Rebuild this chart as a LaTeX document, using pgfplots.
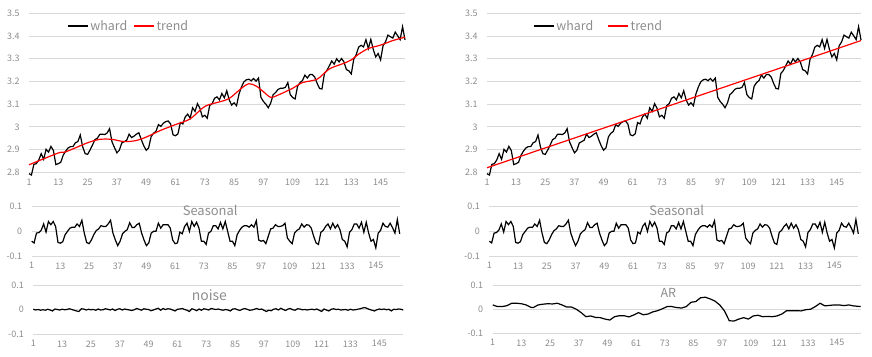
\documentclass[border=0pt]{standalone}
\usepackage{pgfplots}
\pgfplotsset{compat=1.18}
\usepackage{pgfplotstable}
\usepackage{fontspec}
\setmainfont{Noto Sans CJK JP}
\definecolor{gridgray}{HTML}{D9D9D9}
\definecolor{txtgray}{HTML}{8C8C8C}
\definecolor{trendred}{HTML}{FF0000}

\pgfplotstableread{
i whard seas noise
1 2.794 -0.040 0.001
2 2.788 -0.047 -0.002
3 2.835 -0.007 0.000
4 2.838 -0.005 -0.003
5 2.854 0.005 -0.001
6 2.882 0.030 -0.003
7 2.857 -0.003 0.001
8 2.901 0.040 -0.002
9 2.889 0.027 -0.006
10 2.914 0.040 0.002
11 2.896 0.020 0.000
12 2.834 -0.045 -0.002
13 2.838 -0.048 0.001
14 2.844 -0.042 -0.001
15 2.875 -0.013 0.000
16 2.893 0.000 0.003
17 2.907 0.013 0.000
18 2.913 0.017 -0.003
19 2.913 0.016 -0.006
20 2.930 0.030 -0.008
21 2.935 0.020 0.003
22 2.964 0.045 0.002
23 2.912 -0.007 -0.002
24 2.882 -0.045 0.001
25 2.879 -0.050 -0.001
26 2.898 -0.035 0.000
27 2.920 -0.013 -0.003
28 2.944 0.003 0.002
29 2.950 0.010 -0.002
30 2.967 0.023 -0.001
31 2.968 0.020 0.003
32 2.966 0.020 0.001
33 2.973 0.030 -0.002
34 2.992 0.045 0.002
35 2.934 -0.007 -0.004
36 2.909 -0.035 0.001
37 2.886 -0.058 0.003
38 2.897 -0.040 -0.002
39 2.929 -0.010 0.002
40 2.935 0.000 0.000
41 2.941 0.007 -0.002
42 2.968 0.035 -0.004
43 2.953 0.016 -0.001
44 2.959 0.016 0.004
45 2.968 0.027 0.001
46 2.974 0.033 -0.003
47 2.944 -0.007 0.003
48 2.917 -0.035 0.001
49 2.897 -0.058 0.000
50 2.908 -0.047 -0.005
51 2.956 -0.007 -0.002
52 2.972 0.000 0.002
53 2.980 0.000 0.005
54 3.010 0.033 -0.003
55 3.002 0.013 0.004
56 3.016 0.027 0.000
57 3.023 0.027 0.003
58 3.026 0.027 0.002
59 3.013 0.013 -0.002
60 2.965 -0.035 -0.006
61 2.961 -0.050 0.001
62 2.969 -0.047 0.002
63 3.019 -0.003 0.004
64 3.013 -0.010 0.000
65 3.044 0.020 -0.003
66 3.056 0.033 -0.008
67 3.038 0.000 0.003
68 3.084 0.040 0.000
69 3.068 0.020 -0.005
70 3.102 0.037 0.002
71 3.082 0.013 -0.003
72 3.044 -0.040 0.003
73 3.051 -0.040 0.001
74 3.038 -0.053 -0.002
75 3.094 -0.007 0.004
76 3.102 0.000 0.002
77 3.126 0.023 0.000
78 3.132 0.023 0.002
79 3.119 0.010 -0.001
80 3.147 0.036 -0.003
81 3.128 0.010 0.000
82 3.159 0.040 -0.002
83 3.119 0.000 -0.006
84 3.096 -0.040 0.002
85 3.106 -0.040 0.003
86 3.093 -0.058 -0.001
87 3.144 -0.013 -0.004
88 3.175 0.004 0.001
89 3.198 0.017 0.004
90 3.207 0.023 0.001
91 3.210 0.023 -0.003
92 3.203 0.017 -0.002
93 3.213 0.027 0.001
94 3.201 0.017 0.004
95 3.215 0.043 0.000
96 3.130 -0.035 0.002
97 3.112 -0.040 -0.003
98 3.100 -0.037 -0.008
99 3.084 -0.050 -0.003
100 3.105 -0.020 -0.005
101 3.142 0.010 0.001
102 3.151 0.013 0.003
103 3.165 0.027 -0.002
104 3.170 0.020 0.005
105 3.170 0.020 0.000
106 3.174 0.023 -0.004
107 3.195 0.033 0.002
108 3.142 -0.027 0.004
109 3.129 -0.040 -0.001
110 3.123 -0.050 -0.003
111 3.179 -0.007 0.003
112 3.195 0.004 0.002
113 3.204 0.010 -0.001
114 3.228 0.030 0.000
115 3.215 0.017 -0.002
116 3.230 0.027 0.000
117 3.231 0.025 0.001
118 3.220 0.013 -0.001
119 3.192 -0.020 0.002
120 3.169 -0.047 -0.003
121 3.167 -0.053 -0.008
122 3.235 -0.004 0.002
123 3.248 0.004 -0.002
124 3.269 0.020 -0.006
125 3.290 0.030 0.001
126 3.276 0.010 0.003
127 3.300 0.033 0.000
128 3.286 0.013 0.001
129 3.301 0.027 -0.002
130 3.286 0.007 -0.001
131 3.252 -0.033 0.000
132 3.247 -0.040 -0.003
133 3.233 -0.063 0.001
134 3.297 -0.004 -0.002
135 3.318 0.007 -0.001
136 3.351 0.030 0.001
137 3.359 0.030 0.003
138 3.352 0.013 0.006
139 3.384 0.037 0.008
140 3.345 -0.004 0.004
141 3.385 0.037 0.000
142 3.341 -0.007 -0.003
143 3.308 -0.040 -0.006
144 3.323 -0.033 -0.001
145 3.295 -0.067 0.002
146 3.357 -0.007 0.000
147 3.374 0.004 0.002
148 3.404 0.033 -0.001
149 3.397 0.020 0.001
150 3.391 0.017 -0.006
151 3.417 0.033 0.001
152 3.401 0.015 0.000
153 3.384 -0.007 0.002
154 3.441 0.048 0.001
155 3.383 -0.010 -0.002
}\maindata

\pgfplotstableread{
i ar
1 0.017
3 0.010
5 0.010
7 0.014
9 0.024
11 0.024
13 0.022
15 0.017
17 0.007
18 0.006
20 0.017
22 0.020
24 0.022
26 0.021
28 0.024
30 0.017
32 0.008
34 0.008
36 -0.001
38 -0.015
40 -0.032
42 -0.029
44 -0.035
46 -0.036
48 -0.042
50 -0.046
52 -0.032
54 -0.028
56 -0.028
58 -0.033
60 -0.025
62 -0.015
64 -0.024
66 -0.021
68 -0.012
70 -0.007
72 0.001
74 0.010
76 0.010
78 0.006
80 0.004
82 0.010
84 0.028
86 0.031
88 0.047
90 0.049
92 0.042
94 0.033
96 0.017
98 -0.008
100 -0.049
102 -0.050
104 -0.042
106 -0.036
108 -0.042
110 -0.029
112 -0.026
114 -0.032
116 -0.031
118 -0.032
120 -0.029
122 -0.021
124 -0.007
126 -0.007
128 -0.007
130 -0.008
132 -0.003
134 -0.001
136 0.010
138 0.024
140 0.013
142 0.015
144 0.017
146 0.017
148 0.014
150 0.017
152 0.013
155 0.010
}\ardata

\tikzset{
  ttl/.style={anchor=base, text=txtgray, font=\fontsize{13}{15}\selectfont},
  ser/.style={black, line width=1.2bp},
}
\pgfplotsset{
  excel/.style={scale only axis, anchor=south west, xmin=1, xmax=155,
    axis line style={draw=none}, major tick style={draw=none},
    ymajorgrids, grid style={gridgray, line width=0.8bp},
    xtick={1,13,...,145},
    tick label style={font=\fontsize{9}{10}\selectfont, text=txtgray},
    xticklabel style={yshift=-3bp}, yticklabel style={xshift=-6bp},
    /pgf/number format/assume math mode=true, clip=false},
  top/.style={excel, ymin=2.8, ymax=3.5,
    ytick={2.8,2.9,3,3.1,3.2,3.3,3.4,3.5},
    yticklabels={2.8,2.9,3,3.1,3.2,3.3,3.4,3.5},
    legend image code/.code={\draw[##1] (0bp,0bp) -- (20bp,0bp);},
    legend cell align=left},
  mid/.style={excel, ymin=-0.1, ymax=0.1, ytick={-0.1,0,0.1},
    yticklabels={-0.1,0,0.1}},
}

\begin{document}
\begin{tikzpicture}
\path[use as bounding box] (0bp,0bp) rectangle (872bp,357bp);

% left top
\begin{axis}[top, at={(29bp,184.7bp)}, width=376bp, height=159bp,
  legend style={draw=none, fill=none, at={(0.101,0.92)}, anchor=west,
    legend columns=2, inner sep=0pt,
    font=\fontsize{12.5}{14}\selectfont, text=txtgray,
    /tikz/every even column/.append style={column sep=4bp}}]
\addplot[ser] table[x=i, y=whard]{\maindata};
\addlegendentry{whard}
\addplot[trendred, line width=1.2bp, smooth] coordinates {
(1,2.833) (13,2.885) (16,2.890) (25,2.930) (30,2.945) (35,2.945) (40,2.935)
(45,2.940) (49,2.955) (55,2.985) (61,3.010) (67,3.035) (73,3.090) (79,3.110)
(83,3.125) (88,3.170) (91,3.190) (94,3.180) (97,3.155) (100,3.130) (103,3.140)
(109,3.170) (113,3.195) (119,3.210) (124,3.255) (130,3.280) (133,3.295)
(136,3.320) (140,3.345) (145,3.360) (150,3.380) (155,3.395)};
\addlegendentry{trend}
\end{axis}

% left middle
\begin{axis}[mid, at={(31.7bp,101bp)}, width=368bp, height=49.3bp]
\addplot[ser] table[x=i, y=seas]{\maindata};
\node[ttl] at (rel axis cs:0.485,0.83) {Seasonal};
\end{axis}

% left bottom
\begin{axis}[mid, at={(33.3bp,23bp)}, width=370bp, height=49bp]
\addplot[ser] table[x=i, y=noise]{\maindata};
\node[ttl, font=\fontsize{14}{16}\selectfont] at (rel axis cs:0.476,0.69) {noise};
\end{axis}

% right top
\begin{axis}[top, at={(487bp,184.7bp)}, width=374bp, height=159bp,
  legend style={draw=none, fill=none, at={(0.123,0.92)}, anchor=west,
    legend columns=2, inner sep=0pt,
    font=\fontsize{12.5}{14}\selectfont, text=txtgray,
    /tikz/every even column/.append style={column sep=12bp}}]
\addplot[ser] table[x=i, y=whard]{\maindata};
\addlegendentry{whard}
\addplot[trendred, line width=1.2bp] coordinates {(1,2.820) (155,3.380)};
\addlegendentry{trend}
\end{axis}

% right middle
\begin{axis}[mid, at={(489.3bp,101bp)}, width=369bp, height=49.3bp]
\addplot[ser] table[x=i, y=seas]{\maindata};
\node[ttl] at (rel axis cs:0.508,0.83) {Seasonal};
\end{axis}

% right bottom
\begin{axis}[mid, at={(492.7bp,24bp)}, width=368bp, height=48bp]
\addplot[ser] table[x=i, y=ar]{\ardata};
\node[ttl, font=\fontsize{12.5}{14}\selectfont] at (rel axis cs:0.477,0.73) {AR};
\end{axis}
\end{tikzpicture}
\end{document}
